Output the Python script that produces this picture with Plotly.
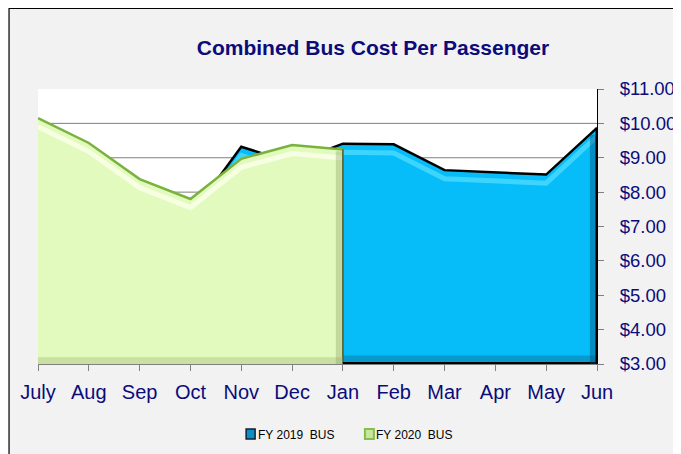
import plotly.graph_objects as go

months = ["July", "Aug", "Sep", "Oct", "Nov", "Dec", "Jan", "Feb", "Mar", "Apr", "May", "Jun"]
fy2019 = [10.00, 9.30, 8.20, 7.30, 9.32, 8.85, 9.41, 9.39, 8.64, 8.57, 8.51, 9.87]
fy2020 = [10.15, 9.43, 8.38, 7.80, 8.97, 9.37, 9.24, None, None, None, None, None]
series_names = ["FY 2019  BUS", "FY 2020  BUS"]
y_ticks = [3, 4, 5, 6, 7, 8, 9, 10, 11]
y_ticklabels = ["$%.2f" % v for v in y_ticks]

NAVY = "#0B0B7A"
FONT = "Liberation Sans, Arial, sans-serif"
BLUE = "#06BDF9"
GREEN_FILL = "#E3FABF"
GREEN_EDGE = "#7AB23E"

# page body has an 8px margin; work in screen pixels and convert
OFF = 8
W, H = 681, 454
SL, SR, ST, SB = 37.5, 597.5, 89, 364   # plot area in screen pixels
L = SL - OFF
T = ST - OFF
R = W - (SR - OFF)
B = H - (SB - OFF)
PW = SR - SL
PH = SB - ST


def px2x(px):
    return (px - SL) / PW


def py2y(py):
    return (SB - py) / PH


x_idx = list(range(len(months)))
g_x = [i for i, v in zip(x_idx, fy2020) if v is not None]
g_y = [v for v in fy2020 if v is not None]

fig = go.Figure()

fig.add_trace(go.Scatter(x=x_idx, y=fy2019, mode="lines", fill="tozeroy",
                         fillcolor=BLUE, line=dict(color="#000000", width=2.5),
                         name=series_names[0], showlegend=False, hoverinfo="skip"))
fig.add_trace(go.Scatter(x=x_idx, y=[v - 0.25 for v in fy2019], mode="lines",
                         line=dict(color="rgba(80,222,255,0.75)", width=5),
                         showlegend=False, hoverinfo="skip"))

fig.add_trace(go.Scatter(x=g_x, y=g_y, mode="lines", fill="tozeroy",
                         fillcolor=GREEN_FILL, line=dict(color=GREEN_EDGE, width=2.5),
                         name=series_names[1], showlegend=False, hoverinfo="skip"))
fig.add_trace(go.Scatter(x=g_x, y=[v - 0.25 for v in g_y], mode="lines",
                         line=dict(color="rgba(250,255,232,0.85)", width=5),
                         showlegend=False, hoverinfo="skip"))

shapes = []
for v in y_ticks[1:-1]:
    shapes.append(dict(type="line", xref="x", yref="y", x0=0, x1=11, y0=v, y1=v,
                       line=dict(color="#7F7F7F", width=1), layer="below"))
shapes.append(dict(type="rect", xref="x", yref="y", x0=g_x[-1] - 0.14, x1=g_x[-1],
                   y0=3, y1=g_y[-1] - 0.05, fillcolor="rgba(120,140,80,0.3)",
                   line=dict(width=0)))
shapes.append(dict(type="line", xref="x", yref="y", x0=g_x[-1], x1=g_x[-1],
                   y0=3, y1=g_y[-1], line=dict(color="#4A5A2A", width=1.5)))
shapes.append(dict(type="rect", xref="x", yref="y", x0=0, x1=g_x[-1],
                   y0=3, y1=3.2, fillcolor="rgba(150,175,110,0.35)", line=dict(width=0)))
shapes.append(dict(type="rect", xref="x", yref="y", x0=g_x[-1], x1=11,
                   y0=3, y1=3.25, fillcolor="rgba(10,110,150,0.45)", line=dict(width=0)))
shapes.append(dict(type="line", xref="x", yref="y", x0=g_x[-1], x1=11,
                   y0=3.02, y1=3.02, line=dict(color="#000000", width=2.5)))
shapes.append(dict(type="rect", xref="x", yref="y", x0=10.86, x1=11,
                   y0=3, y1=fy2019[-1] - 0.2, fillcolor="rgba(0,70,110,0.4)",
                   line=dict(width=0)))
shapes.append(dict(type="line", xref="x", yref="y", x0=11, x1=11,
                   y0=3, y1=fy2019[-1], line=dict(color="#000000", width=3)))
# chart frame (top and left edges visible)
shapes.append(dict(type="rect", xref="paper", yref="paper", x0=px2x(OFF + 0.5), x1=2,
                   y0=-1, y1=py2y(OFF + 0.5), line=dict(color="#000000", width=1.2),
                   fillcolor="rgba(0,0,0,0)", layer="below"))

leg_x = [246, 365]
annotations = []
for i, name in enumerate(series_names):
    px = leg_x[i]
    if i == 0:
        fill, edge, w = "#0A8FC8", "#102030", 1.5
    else:
        fill, edge, w = "#C8E6A0", "#86BE4E", 2
    shapes.append(dict(type="rect", xref="paper", yref="paper", x0=px2x(px), x1=px2x(px + 9),
                       y0=py2y(439), y1=py2y(429), fillcolor=fill,
                       line=dict(color=edge, width=w)))
    annotations.append(dict(text=name, xref="paper", yref="paper",
                            x=px2x(px + 9.5), y=py2y(434.5),
                            xanchor="left", yanchor="middle", showarrow=False,
                            font=dict(family=FONT, size=12, color="#000000")))

fig.update_layout(
    width=W, height=H,
    margin=dict(l=L, r=R, t=T, b=B, autoexpand=False),
    paper_bgcolor="#F2F2F2", plot_bgcolor="#FFFFFF",
    title=dict(text="<b>Combined Bus Cost Per Passenger</b>", x=(373 - OFF) / W,
               y=1 - (48 - OFF) / H, xanchor="center", yanchor="middle",
               font=dict(family=FONT, size=21, color=NAVY)),
    shapes=shapes, annotations=annotations,
    showlegend=False,
    xaxis=dict(range=[0, 11], tickmode="array", tickvals=x_idx, ticktext=months,
               automargin=False,
               showgrid=False, zeroline=False, showline=True, linecolor="#808080",
               linewidth=1, ticks="outside", ticklen=6, tickcolor="#808080",
               ticklabelstandoff=4,
               tickfont=dict(family=FONT, size=20, color=NAVY)),
    yaxis=dict(range=[3, 11], side="right", tickmode="array", tickvals=y_ticks,
               ticktext=y_ticklabels, showgrid=False, zeroline=False, automargin=False,
               showline=True, linecolor="#000000", linewidth=1,
               ticks="outside", ticklen=6, tickcolor="#808080",
               ticklabelstandoff=12,
               tickfont=dict(family=FONT, size=18.5, color=NAVY)),
)

fig.write_html("out.html")
